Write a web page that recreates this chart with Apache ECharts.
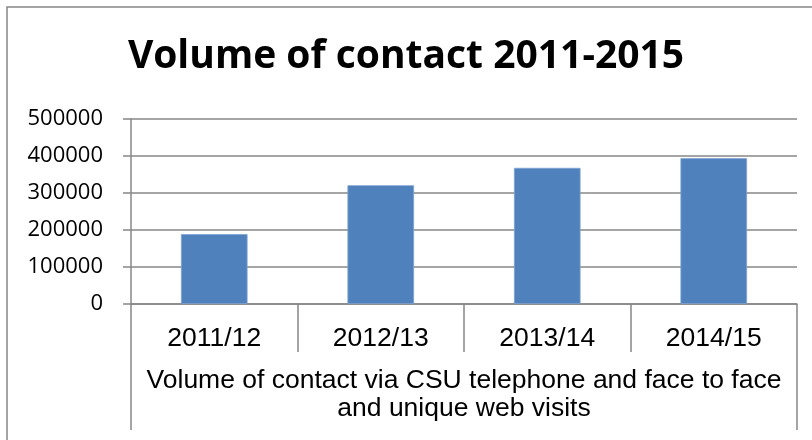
<!DOCTYPE html>
<html>
<head>
<meta charset="utf-8">
<script src="https://cdn.jsdelivr.net/npm/echarts@6/dist/echarts.min.js"></script>
<style>
html,body{margin:0;padding:0;background:#fff;}
#main{width:812px;height:440px;}
</style>
</head>
<body>
<div id="main"></div>
<script>
const titleText = 'Volume of contact 2011-2015';
const categories = ['2011/12', '2012/13', '2013/14', '2014/15'];
const groupLabel = ['Volume of contact via CSU telephone and face to face\nand unique web visits'];
const values = [189000, 321000, 368000, 394000];
const yTicks = { min: 0, max: 500000, interval: 100000 };

const chart = echarts.init(document.getElementById('main'), null, { renderer: 'canvas' });
const gray = '#878787';
chart.setOption({
  backgroundColor: '#fff',
  animation: false,
  title: {
    text: titleText,
    left: 'center',
    top: 32,
    textStyle: { fontFamily: 'Open Sans', fontWeight: 'bold', fontSize: 39, color: '#000' }
  },
  graphic: [{
    type: 'rect',
    shape: { x: 7, y: 7, width: 900, height: 500 },
    style: { fill: 'none', stroke: gray, lineWidth: 1.5 },
    silent: true
  }],
  grid: { left: 131, right: 15, top: 119, bottom: 136, containLabel: false },
  xAxis: [{
    type: 'category',
    data: categories,
    position: 'bottom',
    axisLine: { show: true, lineStyle: { color: gray, width: 1.5 } },
    axisTick: { show: true, length: 48, lineStyle: { color: gray, width: 1.5 } },
    axisLabel: { margin: 21, fontFamily: 'Liberation Sans', fontSize: 26.5, color: '#000' }
  }, {
    type: 'category',
    data: groupLabel,
    position: 'bottom',
    gridIndex: 0,
    axisLine: { show: false },
    axisTick: { show: true, length: 126, lineStyle: { color: gray, width: 1.5 } },
    axisLabel: { margin: 63, lineHeight: 28, fontFamily: 'Liberation Sans', fontSize: 26.5, color: '#000', align: 'center' }
  }],
  yAxis: {
    type: 'value',
    min: yTicks.min, max: yTicks.max, interval: yTicks.interval,
    axisLine: { show: true, lineStyle: { color: gray, width: 1.5 } },
    axisTick: { show: true, length: 8, lineStyle: { color: gray, width: 1.5 } },
    splitLine: { show: true, lineStyle: { color: gray, width: 1.5 } },
    axisLabel: { margin: 28, fontFamily: 'Open Sans', fontSize: 22, color: '#000', formatter: v => String(v) }
  },
  series: [{
    type: 'bar',
    xAxisIndex: 0,
    data: values,
    barWidth: '40%',
    itemStyle: { color: '#4F81BD', borderColor: '#7fa3d4', borderWidth: 0.8 }
  }]
});
</script>
</body>
</html>
